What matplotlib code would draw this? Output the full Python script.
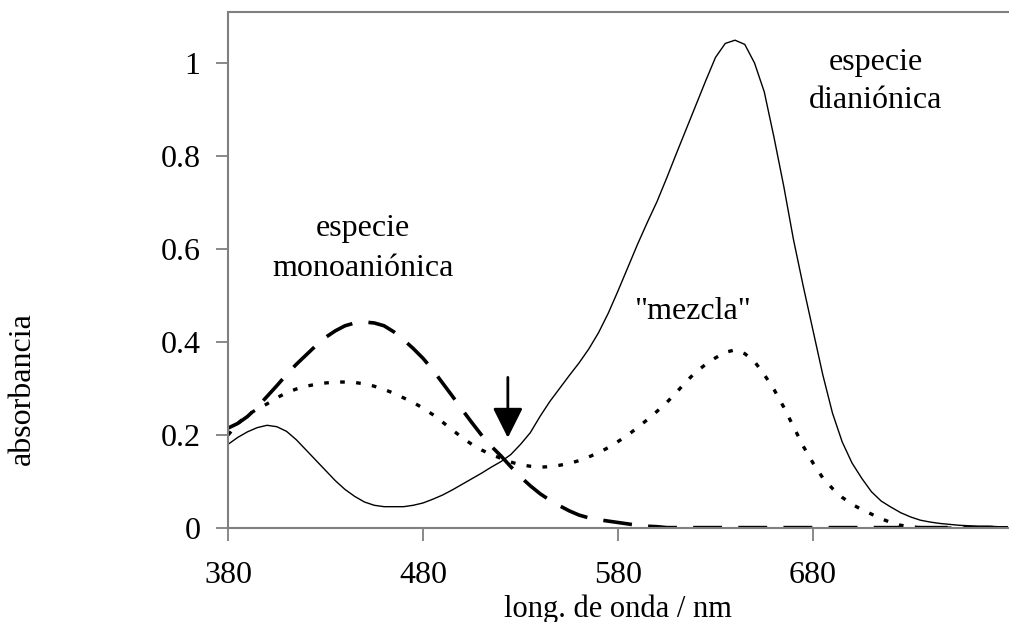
# Espectros de absorcion: especie monoanionica, dianionica y "mezcla"
import numpy as np
import matplotlib
matplotlib.use('Agg')
import matplotlib.pyplot as plt

matplotlib.rc('font', family='Liberation Serif', size=23)

# longitudes de onda (nm), cada 5 nm
wl = list(range(380, 785, 5))

# especie dianionica (linea continua)
dian = [0.180, 0.195, 0.207, 0.216, 0.221, 0.218, 0.208, 0.190, 0.168,
        0.146, 0.124, 0.102, 0.083, 0.068, 0.056, 0.049, 0.046, 0.046,
        0.046, 0.049, 0.054, 0.062, 0.071, 0.082, 0.094, 0.106, 0.118,
        0.131, 0.143, 0.158, 0.180, 0.205, 0.240, 0.272, 0.300, 0.328,
        0.355, 0.385, 0.420, 0.462, 0.510, 0.560, 0.610, 0.657, 0.702,
        0.753, 0.806, 0.858, 0.910, 0.962, 1.012, 1.042, 1.049, 1.040,
        1.000, 0.938, 0.840, 0.735, 0.620, 0.520, 0.425, 0.330, 0.247,
        0.185, 0.140, 0.107, 0.078, 0.058, 0.045, 0.033, 0.024, 0.017,
        0.013, 0.010, 0.008, 0.006, 0.005, 0.004, 0.004, 0.003, 0.003]

# especie monoanionica (linea discontinua)
mono = [0.215, 0.225, 0.240, 0.260, 0.283, 0.306, 0.330, 0.352, 0.372,
        0.392, 0.410, 0.424, 0.435, 0.441, 0.443, 0.441, 0.435, 0.422,
        0.405, 0.386, 0.365, 0.340, 0.312, 0.284, 0.255, 0.227, 0.200,
        0.176, 0.155, 0.132, 0.110, 0.091, 0.074, 0.060, 0.048, 0.037,
        0.028, 0.022, 0.018, 0.015, 0.012, 0.009, 0.006, 0.004, 0.003,
        0.001, 0.001, 0.001, 0.001, 0.001, 0.001, 0.001, 0.001, 0.001,
        0.001, 0.001, 0.001, 0.001, 0.001, 0.001, 0.001, 0.001, 0.001,
        0.001, 0.001, 0.001, 0.001, 0.001, 0.001, 0.001, 0.001, 0.001,
        0.001, 0.001, 0.001, 0.001, 0.001, 0.001, 0.001, 0.001, 0.001]

# "mezcla" (linea punteada)
mezcla = [0.200, 0.225, 0.243, 0.256, 0.267, 0.280, 0.291, 0.299, 0.305,
          0.309, 0.312, 0.314, 0.314, 0.313, 0.310, 0.305, 0.298, 0.290,
          0.280, 0.270, 0.258, 0.244, 0.228, 0.211, 0.195, 0.180, 0.168,
          0.158, 0.150, 0.142, 0.136, 0.133, 0.131, 0.132, 0.135, 0.139,
          0.145, 0.153, 0.162, 0.173, 0.186, 0.200, 0.216, 0.233, 0.251,
          0.270, 0.292, 0.315, 0.336, 0.352, 0.366, 0.378, 0.383, 0.375,
          0.358, 0.330, 0.298, 0.260, 0.218, 0.176, 0.140, 0.108, 0.085,
          0.066, 0.051, 0.040, 0.030, 0.020, 0.012, 0.006, 0.003, 0.001,
          0.0, 0.0, 0.0, 0.0, 0.0, 0.0, 0.0, 0.0, 0.0]

fig = plt.figure(figsize=(10.09, 6.22), dpi=100)
ax = fig.add_axes([0.226, 0.151, 0.773, 0.830])

ax.plot(wl, dian, color='black', lw=1.0)
ax.plot(wl, mono, color='black', lw=2.6, dashes=(8, 4.5))
ax.plot(wl, mezcla, color='black', lw=2.4, dashes=(1.4, 3.4))

# flecha en el punto isosbestico
ax.annotate('', xy=(523.5, 0.188), xytext=(523.5, 0.33),
            arrowprops=dict(arrowstyle='-|>,head_length=0.8,head_width=0.4',
                            color='black', lw=2))

ax.text(449, 0.645, 'especie', ha='center', va='center')
ax.text(449, 0.558, 'monoaniónica', ha='center', va='center')
ax.text(618, 0.465, '"mezcla"', ha='center', va='center')
ax.text(712, 1.002, 'especie', ha='center', va='center')
ax.text(712, 0.92, 'dianiónica', ha='center', va='center')

ax.set_xlim(380, 780)
ax.set_ylim(0, 1.11)
ax.set_xticks([380, 480, 580, 680])
ax.set_yticks([0, 0.2, 0.4, 0.6, 0.8, 1.0])
ax.set_yticklabels(['0', '0.2', '0.4', '0.6', '0.8', '1'])

for s in ['left', 'bottom', 'top']:
  ax.spines[s].set_color('#808080')
  ax.spines[s].set_linewidth(1.5)
ax.spines['right'].set_visible(False)
ax.tick_params(direction='out', length=9, width=1.3, color='#808080')
ax.tick_params(axis='x', pad=15)
ax.tick_params(axis='y', pad=11)

ax.set_xlabel('long. de onda / nm', va='top', fontsize=22)
ax.xaxis.set_label_coords(0.5, -0.128)
fig.text(0.022, 0.376, 'absorbancia', rotation=90, ha='center', va='center')

fig.savefig('out.png', dpi=100)
